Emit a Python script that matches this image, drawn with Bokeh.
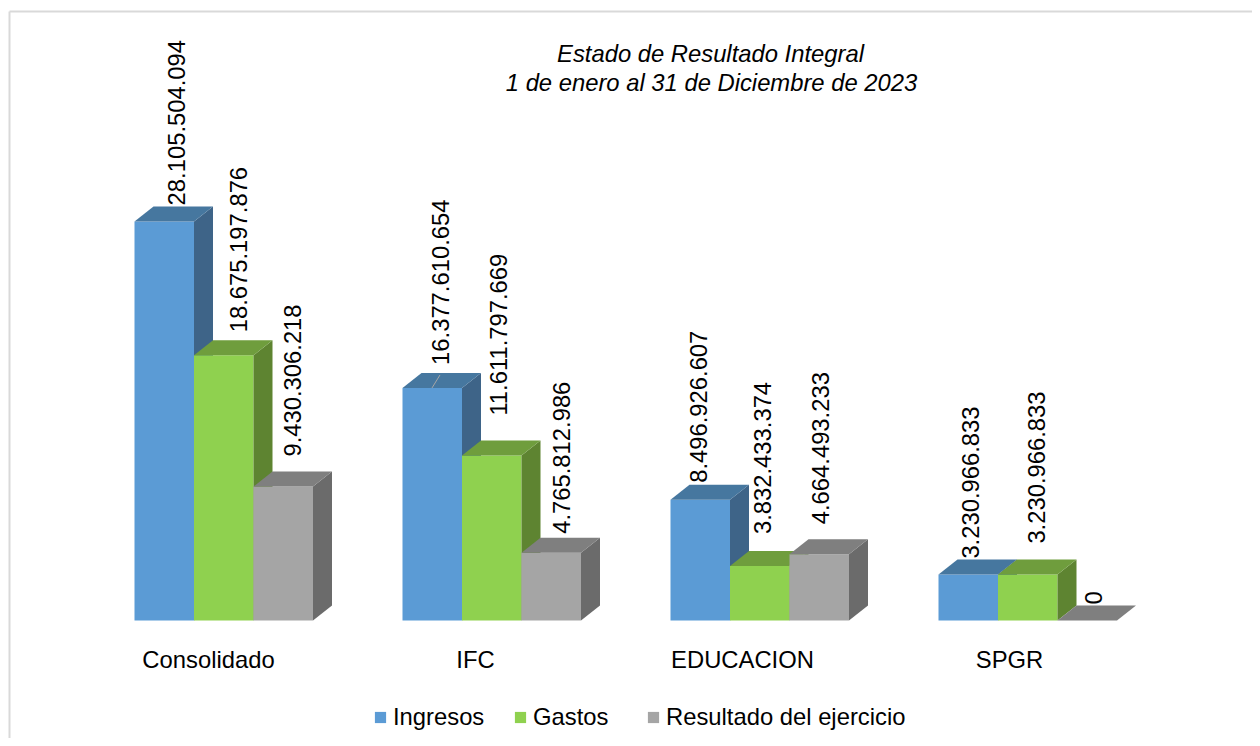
from bokeh.plotting import figure
from bokeh.embed import file_html
from bokeh.resources import INLINE
from bokeh.models import Range1d, FixedTicker, Legend, LegendItem, ColumnDataSource
from bokeh.core.properties import value
import math

categories = ["Consolidado", "IFC", "EDUCACION", "SPGR"]
series_names = ["Ingresos", "Gastos", "Resultado del ejercicio"]
ingresos = [28105504094, 16377610654, 8496926607, 3230966833]
gastos = [18675197876, 11611797669, 3832433374, 3230966833]
resultado = [9430306218, 4765812986, 4664493233, 0]
title_lines = ["Estado de Resultado Integral", "1 de enero al 31 de Diciembre de 2023"]

front = ["#5B9BD5", "#8FD14F", "#A5A5A5"]
top = ["#46779F", "#6F9D3D", "#7F7F7F"]
side = ["#3E6488", "#5E8431", "#6B6B6B"]

# label offsets from the bar's top centre, in pixels
label_dx = [[12, 15, 9], [8, 7, 10], [-2, 3, 1], [2, 9, 6]]
label_dy = [[16, 23, 30], [23, 40, 19], [17, 32, 30], [16, 31, 16]]

W, H = 1252, 738
PX_PER_UNIT = 14.2e-9     # px per value unit
BASE = 620                # picture y of the baseline
GROUP_PX = 268            # spacing between bar groups
TICK_PX = 267             # spacing between category labels
X0 = 208                  # picture x of first category tick
BAR_PX = 59.5
FIRST_BAR = 134
DX, DY = 19, 15           # 3-D depth
FONT = "23.8px"
LEGEND_X = [373, 513, 646]

def xd(px):
    return (px - X0) / TICK_PX

def yd(py):
    return (BASE - py) / PX_PER_UNIT

p = figure(width=W, height=H, output_backend="svg", toolbar_location=None,
           x_range=Range1d(xd(0), xd(W)), y_range=Range1d(yd(H), yd(0)),
           min_border=0, min_border_left=0, min_border_right=0, min_border_top=0, min_border_bottom=0,
           outline_line_color=None, background_fill_color="white", border_fill_color="white")
p.grid.visible = False
p.yaxis.visible = False
ax = p.xaxis[0]
ax.fixed_location = 0
ax.ticker = FixedTicker(ticks=list(range(len(categories))))
ax.major_label_overrides = {i: c for i, c in enumerate(categories)}
ax.axis_line_color = None
ax.major_tick_line_color = None
ax.minor_tick_line_color = None
ax.major_label_standoff = 19
ax.major_label_text_font = "Liberation Sans"
ax.major_label_text_font_size = FONT
ax.major_label_text_color = "#000000"

# chart border
p.segment(x0=[xd(9), xd(9)], y0=[yd(11), yd(11)], x1=[xd(W), xd(9)], y1=[yd(11), yd(H)],
          line_color="#D9D9D9", line_width=2)

all_series = [ingresos, gastos, resultado]
dx_u = DX / TICK_PX
dy_u = DY / PX_PER_UNIT
w_u = BAR_PX / TICK_PX
legend_items = []
for s, vals in enumerate(all_series):
    lefts = [xd(FIRST_BAR + g * GROUP_PX + s * BAR_PX) for g in range(len(vals))]
    r = p.vbar(x=[l + w_u / 2 for l in lefts], width=w_u, top=vals, bottom=0,
               fill_color=front[s], line_color=None)
    legend_items.append(LegendItem(label=series_names[s], renderers=[r]))
    p.patches(xs=[[l + w_u, l + w_u + dx_u, l + w_u + dx_u, l + w_u] for l in lefts],
              ys=[[0, dy_u, v + dy_u, v] for v in vals],
              fill_color=side[s], line_color=None)
    p.patches(xs=[[l, l + dx_u, l + w_u + dx_u, l + w_u] for l in lefts],
              ys=[[v, v + dy_u, v + dy_u, v] for v in vals],
              fill_color=top[s], line_color=None)

# leader line of IFC / Ingresos
ifc_left = xd(FIRST_BAR + GROUP_PX)
p.segment(x0=[ifc_left + 29.5 / TICK_PX], y0=[ingresos[1]], x1=[ifc_left + 37.5 / TICK_PX],
          y1=[ingresos[1] + 13 / PX_PER_UNIT], line_color="#A6A6A6", line_width=1)

# data labels
def fmt(v):
    return f"{v:,}".replace(",", ".")

lx, ly, lt, xo, yo = [], [], [], [], []
for s, vals in enumerate(all_series):
    for g, v in enumerate(vals):
        lx.append(xd(FIRST_BAR + g * GROUP_PX + s * BAR_PX + BAR_PX / 2))
        ly.append(v)
        lt.append(fmt(v))
        xo.append(label_dx[g][s])
        yo.append(-label_dy[g][s])
src = ColumnDataSource(dict(x=lx, y=ly, t=lt, xo=xo, yo=yo))
p.text(x="x", y="y", text="t", x_offset="xo", y_offset="yo", source=src, angle=math.pi / 2,
       text_align="left", text_baseline="middle", text_font=value("Liberation Sans"),
       text_font_size=FONT, text_color="#000000")

# title
p.text(x=[xd(710), xd(711)], y=[yd(53), yd(82)], text=title_lines,
       text_align="center", text_baseline="middle", text_font=value("Liberation Sans"),
       text_font_style="italic", text_font_size=FONT, text_color="#000000")

for item, lx0 in zip(legend_items, LEGEND_X):
    legend = Legend(items=[item], orientation="horizontal", location=(lx0, 7),
                    padding=0, margin=0, spacing=0, label_standoff=6,
                    glyph_width=14, glyph_height=14, border_line_color=None,
                    background_fill_alpha=0, label_text_font="Liberation Sans",
                    label_text_font_size=FONT, label_text_color="#000000")
    p.add_layout(legend, "center")

open("out.html", "w").write(file_html(p, INLINE))
